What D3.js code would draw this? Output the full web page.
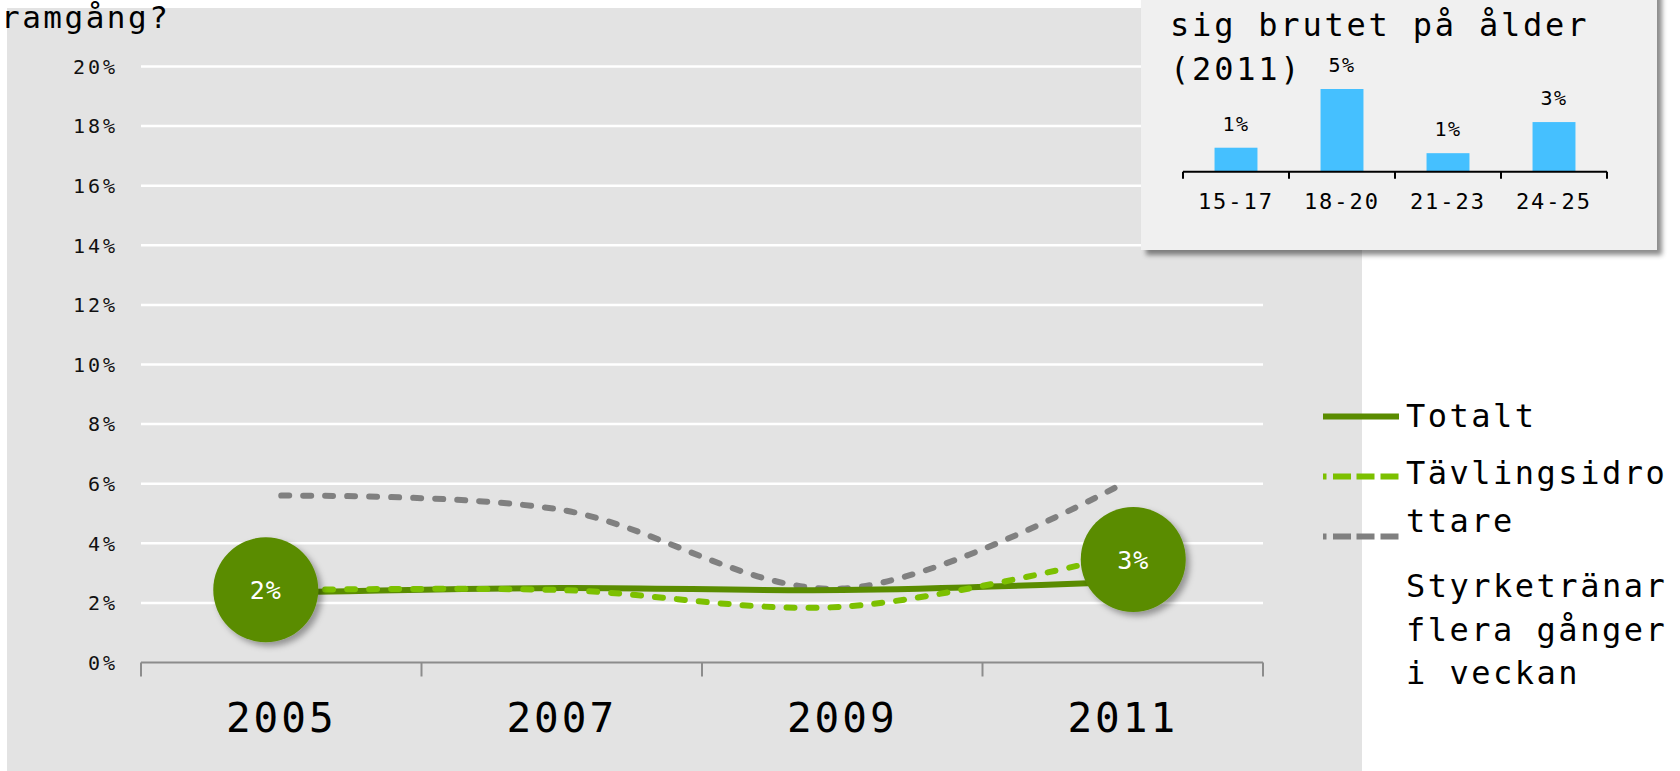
<!DOCTYPE html>
<html>
<head>
<meta charset="utf-8">
<script src="https://cdn.jsdelivr.net/npm/d3@7"></script>
<style>
  body { margin: 0; background: #fff; overflow: hidden; }
  text { font-family: "DejaVu Sans Mono", monospace; }
</style>
</head>
<body>
<div id="chart"></div>
<script>
// Data
const years = ["2005", "2007", "2009", "2011"];
const totalt = [2.35, 2.5, 2.43, 2.7];
const tavling = [2.43, 2.43, 1.87, 3.6];
const styrke = [5.6, 5.12, 2.48, 6.0];
const yTicks = [0, 2, 4, 6, 8, 10, 12, 14, 16, 18, 20];

const bubbleYears = ["2005", "2011"];
const bubbleValues = [2.44, 3.46];
const bubbleLabels = ["2%", "3%"];

const ageGroups = ["15-17", "18-20", "21-23", "24-25"];
const ageValues = [1.45, 5.0, 1.12, 3.0];

const legendNames = ["Totalt", "Tävlingsidrottare", "Styrketränar flera gånger i veckan"];

const width = 1680, height = 771;

const svg = d3.select("#chart")
  .append("svg")
  .attr("width", width)
  .attr("height", height);

const defs = svg.append("defs");
defs.append("filter").attr("id", "bubbleShadow")
  .attr("x", "-30%").attr("y", "-30%").attr("width", "160%").attr("height", "160%")
  .append("feDropShadow")
  .attr("dx", 4).attr("dy", 4).attr("stdDeviation", 3)
  .attr("flood-color", "#000").attr("flood-opacity", 0.35);
defs.append("filter").attr("id", "boxShadow")
  .attr("x", "-10%").attr("y", "-10%").attr("width", "120%").attr("height", "130%")
  .append("feDropShadow")
  .attr("dx", 5).attr("dy", 5).attr("stdDeviation", 2.5)
  .attr("flood-color", "#000").attr("flood-opacity", 0.45);

// plot background
svg.append("rect")
  .attr("x", 7).attr("y", 8)
  .attr("width", 1362 - 7).attr("height", height - 8)
  .attr("fill", "#e3e3e3");

// Scales
const x = d3.scaleBand().domain(years).range([141, 1263]);
const y = d3.scaleLinear().domain([0, 20]).range([662.5, 66.5]);
const cx = d => x(d) + x.bandwidth() / 2;

// Gridlines
svg.append("g")
  .selectAll("line")
  .data(yTicks.filter(t => t > 0))
  .enter().append("line")
  .attr("x1", 141).attr("x2", 1263)
  .attr("y1", d => y(d)).attr("y2", d => y(d))
  .attr("stroke", "#fff").attr("stroke-width", 2.5);

// Y labels
svg.append("g")
  .selectAll("text")
  .data(yTicks)
  .enter().append("text")
  .attr("x", 118)
  .attr("y", d => y(d))
  .attr("dy", "0.36em")
  .attr("text-anchor", "end")
  .attr("font-size", 20)
  .attr("letter-spacing", 3)
  .attr("fill", "#111")
  .text(d => d + "%");

// X axis
const xAxis = svg.append("g")
  .attr("transform", `translate(0,${y(0)})`);
xAxis.append("line")
  .attr("x1", 141).attr("x2", 1263)
  .attr("stroke", "#8c8c8c").attr("stroke-width", 2);
xAxis.selectAll(".bound")
  .data(years.map(d => x(d)).concat([1263]))
  .enter().append("line")
  .attr("x1", d => d).attr("x2", d => d)
  .attr("y1", 0).attr("y2", 14)
  .attr("stroke", "#8c8c8c").attr("stroke-width", 2);

svg.append("g")
  .selectAll("text")
  .data(years)
  .enter().append("text")
  .attr("x", d => cx(d))
  .attr("y", 732)
  .attr("text-anchor", "middle")
  .attr("font-size", 41)
  .attr("letter-spacing", 3)
  .attr("fill", "#000")
  .text(d => d);

// Lines
const line = d3.line()
  .x((d, i) => cx(years[i]))
  .y(d => y(d))
  .curve(d3.curveCardinal.tension(0));

svg.append("path")
  .attr("d", line(styrke))
  .attr("fill", "none")
  .attr("stroke", "#808080").attr("stroke-width", 6)
  .attr("stroke-dasharray", "8 14").attr("stroke-linecap", "round");

svg.append("path")
  .attr("d", line(totalt))
  .attr("fill", "none")
  .attr("stroke", "#5a8c00").attr("stroke-width", 6);

svg.append("path")
  .attr("d", line(tavling))
  .attr("fill", "none")
  .attr("stroke", "#7cc000").attr("stroke-width", 6)
  .attr("stroke-dasharray", "8 14").attr("stroke-linecap", "round");

// Bubbles
const bubbleOffsets = [-15.5, 10.5];
const bubbles = svg.append("g")
  .selectAll("g")
  .data(bubbleYears)
  .enter().append("g")
  .attr("transform", (d, i) => `translate(${cx(d) + bubbleOffsets[i]},${y(bubbleValues[i])})`);
bubbles.append("circle")
  .attr("r", 52.5)
  .attr("fill", "#5a8c00")
  .attr("filter", "url(#bubbleShadow)");
bubbles.append("text")
  .attr("dy", "0.38em")
  .attr("text-anchor", "middle")
  .attr("font-size", 25)
  .attr("letter-spacing", 1)
  .attr("fill", "#fff")
  .text((d, i) => bubbleLabels[i]);

// Legend
const legendColors = ["#5a8c00", "#7cc000", "#808080"];
const legendDash = [null, "3.5 6.5 18 5.5 18 6 18", "3.5 6.5 18 5.5 18 6 18"];
const legendLineY = [416.5, 476.5, 536.5];
const legendRows = [["Totalt"], ["Tävlingsidro", "ttare"], ["Styrketränar", "flera gånger", "i veckan"]];
const legendTextY = [[427], [484, 532], [597, 641, 684]];

const legend = svg.append("g");
legendNames.forEach((name, i) => {
  legend.append("line")
    .attr("x1", 1323).attr("x2", 1399)
    .attr("y1", legendLineY[i]).attr("y2", legendLineY[i])
    .attr("stroke", legendColors[i]).attr("stroke-width", 6)
    .attr("stroke-dasharray", legendDash[i]);
  legendRows[i].forEach((row, j) => {
    legend.append("text")
      .attr("x", 1406)
      .attr("y", legendTextY[i][j])
      .attr("font-size", 32)
      .attr("letter-spacing", 2.5)
      .attr("fill", "#000")
      .text(row);
  });
});

// Title
svg.append("text")
  .attr("x", 1).attr("y", 28)
  .attr("font-size", 31)
  .attr("letter-spacing", 2.5)
  .attr("fill", "#000")
  .text("ramgång?");

// Inset box
const inset = svg.append("g");
inset.append("rect")
  .attr("x", 1141).attr("y", -20)
  .attr("width", 1657 - 1141).attr("height", 250 + 20)
  .attr("fill", "#f0f0f0")
  .attr("filter", "url(#boxShadow)");

inset.append("text")
  .attr("x", 1170).attr("y", 36)
  .attr("font-size", 32).attr("letter-spacing", 2.8)
  .attr("fill", "#000")
  .text("sig brutet på ålder");
inset.append("text")
  .attr("x", 1170).attr("y", 80)
  .attr("font-size", 32).attr("letter-spacing", 2.8)
  .attr("fill", "#000")
  .text("(2011)");

const xi = d3.scaleBand().domain(ageGroups).range([1183, 1607]);
const yi = d3.scaleLinear().domain([0, 5]).range([171.7, 89]);
const barW = xi.bandwidth() * 0.405;

inset.append("g")
  .selectAll("rect")
  .data(ageValues)
  .enter().append("rect")
  .attr("x", (d, i) => xi(ageGroups[i]) + xi.bandwidth() / 2 - barW / 2)
  .attr("y", d => yi(d))
  .attr("width", barW)
  .attr("height", d => yi(0) - yi(d))
  .attr("fill", "#45c0ff");

inset.append("g")
  .selectAll("text")
  .data(ageValues)
  .enter().append("text")
  .attr("x", (d, i) => xi(ageGroups[i]) + xi.bandwidth() / 2)
  .attr("y", d => yi(d) - 17)
  .attr("text-anchor", "middle")
  .attr("font-size", 20)
  .attr("letter-spacing", 1.5)
  .attr("fill", "#000")
  .text(d => Math.round(d) + "%");

inset.append("line")
  .attr("x1", 1183).attr("x2", 1607)
  .attr("y1", yi(0)).attr("y2", yi(0))
  .attr("stroke", "#000").attr("stroke-width", 2);
inset.append("g")
  .selectAll("line")
  .data(ageGroups.map(d => xi(d)).concat([1607]))
  .enter().append("line")
  .attr("x1", d => d).attr("x2", d => d)
  .attr("y1", yi(0)).attr("y2", yi(0) + 7)
  .attr("stroke", "#000").attr("stroke-width", 2);

inset.append("g")
  .selectAll("text")
  .data(ageGroups)
  .enter().append("text")
  .attr("x", d => xi(d) + xi.bandwidth() / 2)
  .attr("y", 209)
  .attr("text-anchor", "middle")
  .attr("font-size", 22)
  .attr("letter-spacing", 2)
  .attr("fill", "#000")
  .text(d => d);
</script>
</body>
</html>
